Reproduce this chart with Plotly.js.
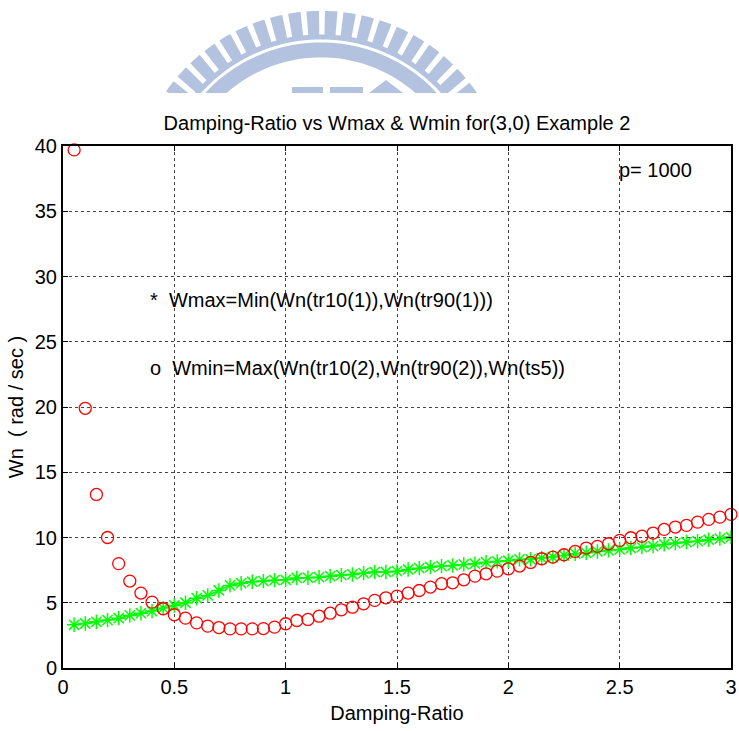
<!DOCTYPE html>
<html>
<head>
<meta charset="utf-8">
<script src="https://cdn.plot.ly/plotly-3.0.1.min.js"></script>
<style>html,body{margin:0;padding:0;background:#fff;}#chart{width:739px;height:731px;}</style>
</head>
<body>
<div id="chart"></div>
<script>
// ---- data ----
const dampingRatio = [0.05,0.10,0.15,0.20,0.25,0.30,0.35,0.40,0.45,0.50,
  0.55,0.60,0.65,0.70,0.75,0.80,0.85,0.90,0.95,1.00,
  1.05,1.10,1.15,1.20,1.25,1.30,1.35,1.40,1.45,1.50,
  1.55,1.60,1.65,1.70,1.75,1.80,1.85,1.90,1.95,2.00,
  2.05,2.10,2.15,2.20,2.25,2.30,2.35,2.40,2.45,2.50,
  2.55,2.60,2.65,2.70,2.75,2.80,2.85,2.90,2.95,3.00];
const wmax = [3.31,3.41,3.54,3.67,3.82,4.03,4.20,4.36,4.59,4.79,
  5.00,5.35,5.56,5.94,6.33,6.50,6.61,6.66,6.73,6.76,
  6.90,6.92,6.96,7.04,7.12,7.17,7.27,7.35,7.36,7.42,
  7.55,7.65,7.73,7.81,7.86,7.94,7.99,8.11,8.17,8.22,
  8.32,8.33,8.42,8.50,8.63,8.76,8.83,8.93,9.01,9.09,
  9.19,9.26,9.34,9.47,9.57,9.65,9.72,9.83,9.91,10.03];
const wmin = [39.7,19.9,13.3,10.0,8.0,6.66,5.74,5.05,4.54,4.08,
  3.82,3.46,3.21,3.10,3.00,3.00,3.00,3.02,3.13,3.39,
  3.64,3.72,3.97,4.20,4.46,4.66,4.92,5.18,5.38,5.51,
  5.74,5.94,6.20,6.46,6.53,6.76,7.04,7.22,7.42,7.60,
  7.81,8.09,8.37,8.50,8.68,8.93,9.19,9.32,9.52,9.78,
  9.98,10.10,10.34,10.62,10.80,10.93,11.18,11.39,11.56,11.77];
const xTicks = [0,0.5,1,1.5,2,2.5,3];
const yTicks = [0,5,10,15,20,25,30,35,40];
const chartTitle = 'Damping-Ratio vs Wmax & Wmin for(3,0) Example 2';
const xLabel = 'Damping-Ratio';
const yLabel = 'Wn\u00a0\u00a0( rad / sec )';
const noteP = 'p= 1000';
const noteMax = '*\u00a0\u00a0Wmax=Min(Wn(tr10(1)),Wn(tr90(1)))';
const noteMin = 'o\u00a0\u00a0Wmin=Max(Wn(tr10(2),Wn(tr90(2)),Wn(ts5))';

// ---- decorative watermark (pixel geometry -> paper coords) ----
const W = 739, H = 731, ML = 63, MR = 8, MT = 146, MB = 63;
const PW = W - ML - MR, PH = H - MT - MB;
function toPaper(p){ return [(p[0]-ML)/PW, (H-MB-p[1])/PH]; }
function clipY(pts, Y){
  const out=[];
  for(let i=0;i<pts.length;i++){
    const a=pts[i], b=pts[(i+1)%pts.length];
    const ain=a[1]<=Y, bin=b[1]<=Y;
    if(ain) out.push(a);
    if(ain!==bin){ const t=(Y-a[1])/(b[1]-a[1]); out.push([a[0]+t*(b[0]-a[0]), Y]); }
  }
  return out;
}
function sector(cx,cy,r1,r2,a0,a1,n){
  const pts=[];
  for(let i=0;i<=n;i++){ const t=(a0+(a1-a0)*i/n)*Math.PI/180; pts.push([cx+r2*Math.sin(t), cy-r2*Math.cos(t)]); }
  for(let i=n;i>=0;i--){ const t=(a0+(a1-a0)*i/n)*Math.PI/180; pts.push([cx+r1*Math.sin(t), cy-r1*Math.cos(t)]); }
  return pts;
}
function pathOf(pts){
  if(pts.length<3) return null;
  return 'M' + pts.map(p=>{const q=toPaper(p); return q[0].toFixed(5)+','+q[1].toFixed(5);}).join(' L') + ' Z';
}
const wmColor = '#b3c3df';
const CUT = 93, CX = 321, CY = 200.4;
const wmPolys = [];
wmPolys.push(sector(CX,CY,143,158,-75,75,80));
wmPolys.push(sector(CX,CY,161,166,-75,75,80));
for(let a=-2.5-5.6*12; a<=70; a+=5.6){
  wmPolys.push(sector(CX,CY,164,189.5,a-1.9,a+1.9,4));
}
wmPolys.push([[292,87],[323,87],[323,93],[292,93]]);
wmPolys.push([[330,87],[363,87],[363,93],[330,93]]);
wmPolys.push([[386,80],[403,93],[369,93]]);
const shapes = [];
wmPolys.forEach(p=>{
  const c = pathOf(clipY(p, CUT));
  if(c) shapes.push({type:'path', xref:'paper', yref:'paper', path:c, fillcolor:wmColor, line:{width:0}, layer:'below'});
});

const font = {family:'"Liberation Sans", Arial, Helvetica, sans-serif', size:20, color:'#000'};

const traces = [
  {x:dampingRatio, y:wmax, type:'scatter', mode:'lines+markers', name:'Wmax',
   line:{color:'#00ff00', width:1.5},
   marker:{symbol:'asterisk-open', size:12, color:'#00ff00', line:{color:'#00ff00', width:1.5}}},
  {x:dampingRatio, y:wmin, type:'scatter', mode:'markers', name:'Wmin', cliponaxis:false,
   marker:{symbol:'circle-open', size:12, color:'#ff0000', line:{color:'#ff0000', width:1.3}}}
];

const axisCommon = {
  showline:true, linecolor:'#000', linewidth:2, mirror:'ticks',
  ticks:'inside', ticklen:5, tickwidth:1, tickcolor:'#000',
  showgrid:true, gridcolor:'#444', gridwidth:1, griddash:'dot',
  zeroline:false, tickfont:font, automargin:false, fixedrange:true
};

const layout = {
  width:W, height:H,
  margin:{l:ML, r:MR, t:MT, b:MB, pad:0},
  paper_bgcolor:'#fff', plot_bgcolor:'#fff',
  showlegend:false,
  font:font,
  title:{text:chartTitle, font:font, xref:'paper', x:0.5, xanchor:'center', yref:'container', y:1-123/731, yanchor:'middle'},
  xaxis:Object.assign({}, axisCommon, {range:[0,3], tickvals:xTicks, ticktext:xTicks.map(String),
     title:{text:xLabel, font:font, standoff:9}}),
  yaxis:Object.assign({}, axisCommon, {range:[0,40], tickvals:yTicks, ticktext:yTicks.map(String),
     title:{text:yLabel, font:font, standoff:6}}),
  shapes:shapes,
  annotations:[
    {text:noteP, xref:'x', yref:'y', x:2.488, y:38.16, xanchor:'left', yanchor:'middle', showarrow:false, font:font},
    {text:noteMax, xref:'x', yref:'y', x:0.38, y:28.2, xanchor:'left', yanchor:'middle', showarrow:false, font:font},
    {text:noteMin, xref:'x', yref:'y', x:0.38, y:23.0, xanchor:'left', yanchor:'middle', showarrow:false, font:font}
  ]
};

Plotly.newPlot('chart', traces, layout, {staticPlot:true, displayModeBar:false});
</script>
</body>
</html>
